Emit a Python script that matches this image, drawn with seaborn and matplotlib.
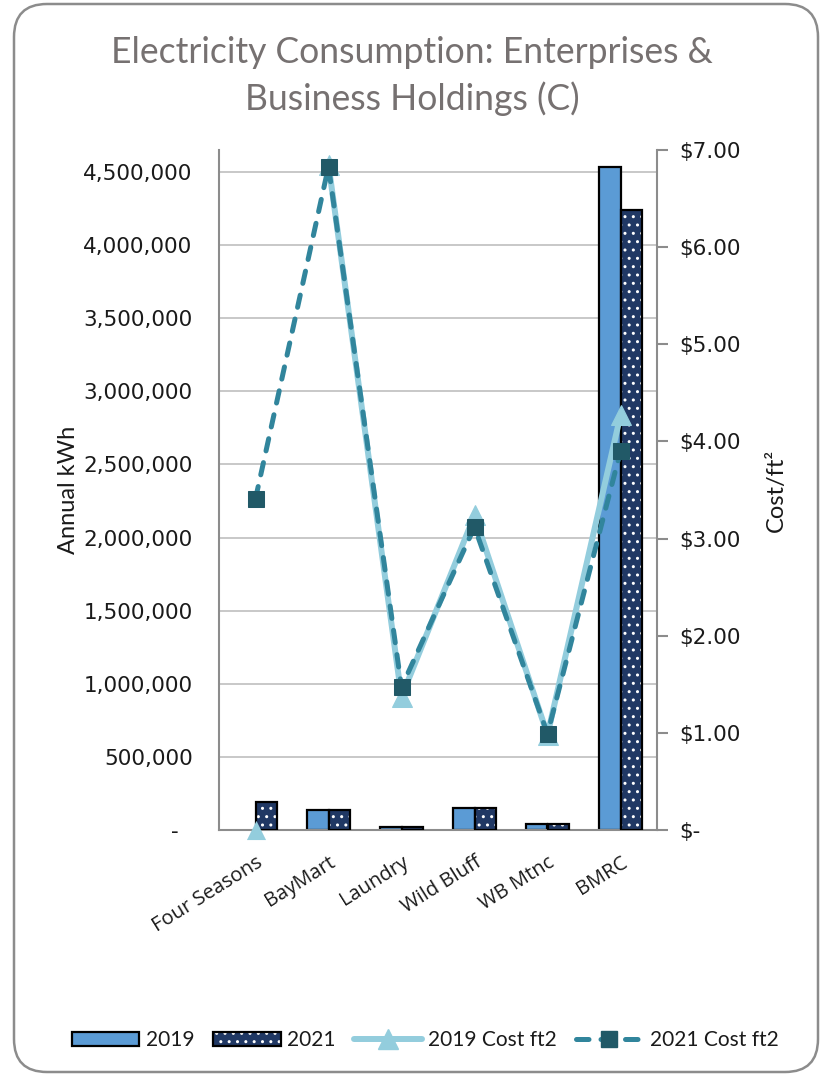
import matplotlib
matplotlib.use("Agg")
import matplotlib.pyplot as plt
import seaborn as sns
import pandas as pd
import numpy as np
from matplotlib.patches import Rectangle, FancyBboxPatch, Patch
from matplotlib.lines import Line2D
from matplotlib.legend_handler import HandlerTuple
from matplotlib.ticker import FuncFormatter, MultipleLocator

# ---- data -------------------------------------------------------------
sites = ["Four Seasons", "BayMart", "Laundry", "Wild Bluff", "WB Mtnc", "BMRC"]
kwh_2019 = [0, 137000, 22000, 150000, 43000, 4535000]
kwh_2021 = [194000, 137000, 22000, 150000, 40000, 4240000]
cost_2019 = [0.00, 6.85, 1.37, 3.24, 0.98, 4.27]
cost_2021 = [3.41, 6.83, 1.47, 3.12, 0.99, 3.90]
years = ["2019", "2021"]

# ---- style ------------------------------------------------------------
sns.set_theme(style="white")
plt.rcParams["font.family"] = ["Lato", "DejaVu Sans"]

C2019 = "#5B9BD5"
C2021 = "#203864"
LINE19 = "#93CDDD"
LINE21 = "#31859C"
MARK21 = "#215967"
AXIS = "#8C8C8C"
GRID = "#C4C4C4"
TXT = "#1A1A1A"
DASH = (0, (2.5, 2.4))

fig = plt.figure(figsize=(8.24, 10.79), dpi=100)
W, H = 824, 1079
ax = fig.add_axes([219 / W, 1 - 830 / H, (657 - 219) / W, (830 - 150) / H])

# ---- bars (left axis) -------------------------------------------------
bars = pd.DataFrame({
    "site": sites * 2,
    "year": [years[0]] * len(sites) + [years[1]] * len(sites),
    "kwh": kwh_2019 + kwh_2021,
})
sns.barplot(data=bars, x="site", y="kwh", hue="year", order=sites,
            hue_order=years, palette={years[0]: C2019, years[1]: C2021},
            saturation=1, width=0.58, gap=0, edgecolor="black", linewidth=1.6,
            legend=False, ax=ax, zorder=2)

# dotted fill for the 2021 bars, with a black outline drawn on top
for p in ax.containers[1]:
    p.set_hatch("..")
    p.set_edgecolor("white")
    p.set_linewidth(0)
    if p.get_height() > 0:
        ax.add_patch(Rectangle(p.get_xy(), p.get_width(), p.get_height(),
                               fill=False, edgecolor="black", lw=1.6, zorder=3))
for p in ax.containers[0]:
    if p.get_height() <= 0:
        p.set_linewidth(0)

ax.set_ylim(0, 4_651_000)
ax.set_xlim(-0.5, len(sites) - 0.5)
ax.yaxis.set_major_locator(MultipleLocator(500_000))
ax.yaxis.set_major_formatter(FuncFormatter(
    lambda v, _: "-  " if v == 0 else f"{v:,.0f}"))
ax.yaxis.grid(True, color=GRID, lw=1.3)
ax.set_axisbelow(True)
ax.set_xlabel("")
ax.set_ylabel("Annual kWh", fontsize=17, color=TXT, labelpad=3)
ax.tick_params(axis="y", length=0, pad=19, labelsize=15.5, labelcolor=TXT)
for lab in ax.get_yticklabels():
    lab.set_family("DejaVu Sans")
ax.tick_params(axis="x", length=0, pad=16)
ax.set_xticks(range(len(sites)))
ax.set_xticklabels(sites, rotation=32, ha="right", rotation_mode="anchor",
                   fontsize=14.5, color=TXT, family="Open Sans")
for s in ["top", "right"]:
    ax.spines[s].set_visible(False)
for s in ["left", "bottom"]:
    ax.spines[s].set_color(AXIS)
    ax.spines[s].set_linewidth(1.5)

# ---- cost lines (right axis) ------------------------------------------
ax2 = ax.twinx()
pos = np.arange(len(sites))
# 2019 line has no segment into the first site; its marker is still shown
sns.lineplot(x=pos[1:], y=cost_2019[1:], sort=False, color=LINE19, lw=4.3,
             marker="^", markersize=15, markerfacecolor=LINE19,
             markeredgecolor=LINE19, ax=ax2, zorder=4)
sns.scatterplot(x=pos[:1], y=cost_2019[:1], marker="^", s=190,
                color=LINE19, edgecolor=LINE19, linewidth=0,
                ax=ax2, zorder=4)
for coll in ax2.collections:
    coll.set_clip_on(False)
sns.lineplot(x=pos, y=cost_2021, sort=False, color=LINE21, lw=3.6,
             linestyle=DASH, dash_capstyle="round",
             marker="s", markersize=11, markerfacecolor=MARK21,
             markeredgecolor=MARK21, ax=ax2, zorder=5)
ax2.set_ylim(0, 7)
ax2.set_xlim(-0.5, len(sites) - 0.5)
ax2.yaxis.set_major_locator(MultipleLocator(1))
ax2.yaxis.set_major_formatter(FuncFormatter(
    lambda v, _: "$-" if v == 0 else f"${v:.2f}"))
ax2.tick_params(axis="y", length=8, width=1.5, color=AXIS, pad=8,
                labelsize=15.5, labelcolor=TXT)
for lab in ax2.get_yticklabels():
    lab.set_family("DejaVu Sans")
ax2.set_ylabel("Cost/ft²", fontsize=17, color=TXT, labelpad=18)
for s in ["top", "left", "bottom"]:
    ax2.spines[s].set_visible(False)
ax2.spines["right"].set_color(AXIS)
ax2.spines["right"].set_linewidth(1.5)

# ---- title ------------------------------------------------------------
fig.text(0.5, 1 - 76 / H, "Electricity Consumption: Enterprises &\nBusiness Holdings (C)",
         ha="center", va="center", fontsize=25.6, color="#767171",
         linespacing=1.4)

# ---- legend -----------------------------------------------------------
handles = [
    Patch(facecolor=C2019, edgecolor="black", lw=1.6),
    (Patch(facecolor=C2021, edgecolor="white", hatch="..", lw=0),
     Patch(fill=False, edgecolor="black", lw=1.6)),
    Line2D([], [], color=LINE19, lw=4.3, marker="^", markersize=15),
    Line2D([], [], color=LINE21, lw=3.6, linestyle=DASH,
           dash_capstyle="round", marker="s", markersize=11,
           markerfacecolor=MARK21, markeredgecolor=MARK21),
]
labels = ["2019", "2021", "2019 Cost ft2", "2021 Cost ft2"]
leg = fig.legend(handles, labels, loc="center", bbox_to_anchor=(425 / W, 1 - 1040 / H),
                 ncol=4, frameon=False, fontsize=15, handlelength=3.25,
                 handleheight=0.65, columnspacing=0.9, handletextpad=0.3,
                 handler_map={tuple: HandlerTuple(ndivide=1, pad=0)})
for t in leg.get_texts():
    t.set_color(TXT)

# ---- rounded outer frame ----------------------------------------------
fig.patches.append(FancyBboxPatch((14 / W, 7 / H), (818 - 14) / W, (1075 - 7) / H,
                                  boxstyle="round,pad=0,rounding_size=0.04",
                                  transform=fig.transFigure, fill=False,
                                  edgecolor="#8C8C8C", lw=1.8,
                                  mutation_aspect=W / H))

fig.savefig("out.png", dpi=100)
